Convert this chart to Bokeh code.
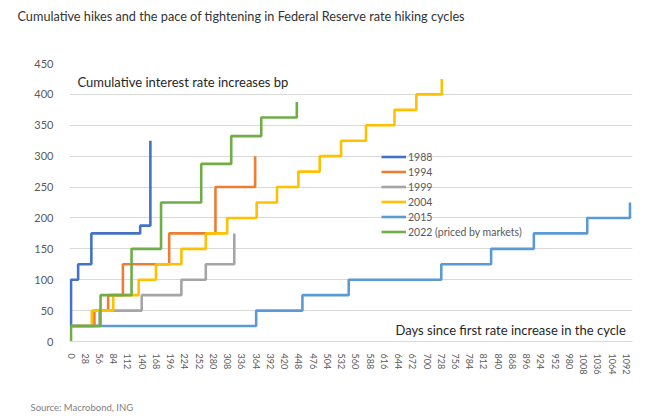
from bokeh.plotting import figure
from bokeh.layouts import column
from bokeh.models import Range1d, FixedTicker, Label, Legend, LegendItem, Title
from bokeh.embed import file_html
from bokeh.resources import INLINE

# ---- data (days since first hike, cumulative bp) ----
days_1988 = [0, 0, 14, 40, 136, 156]
bp_1988 = [25, 100, 125, 175, 187.5, 325]

days_1994 = [0, 46, 73, 102, 193, 284, 362]
bp_1994 = [25, 50, 75, 125, 175, 250, 300]

days_1999 = [0, 56, 139, 217, 265, 321]
bp_1999 = [25, 50, 75, 100, 125, 175]

days_2004 = [0, 41, 83, 133, 167, 217, 265, 307, 365, 405, 447, 489, 531, 580, 636, 679, 729]
bp_2004 = [25, 50, 75, 100, 125, 150, 175, 200, 225, 250, 275, 300, 325, 350, 375, 400, 425]

days_2015 = [0, 364, 455, 546, 728, 826, 910, 1015, 1099]
bp_2015 = [25, 50, 75, 100, 125, 150, 175, 200, 225]

days_2022 = [0, 0, 58, 119, 177, 256, 315, 374, 444]
bp_2022 = [0, 25, 75, 150, 225, 287.5, 332.5, 362.5, 387.5]

series_names = ["1988", "1994", "1999", "2004", "2015", "2022 (priced by markets)"]
series_colors = ["#4472C4", "#ED7D31", "#A5A5A5", "#FFC000", "#5B9BD5", "#70AD47"]
series_days = [days_1988, days_1994, days_1999, days_2004, days_2015, days_2022]
series_bp = [bp_1988, bp_1994, bp_1999, bp_2004, bp_2015, bp_2022]

x_ticks = list(range(0, 1093, 28))
y_ticks = [0, 50, 100, 150, 200, 250, 300, 350, 400, 450]

title_text = "Cumulative hikes and the pace of tightening in Federal Reserve rate hiking cycles"
y_note = "Cumulative interest rate increases bp"
x_note = "Days since first rate increase in the cycle"
source_text = "Source: Macrobond, ING"

FONT = "Lato"
W = 656
H_TOP = 30
H_BOTTOM = 24
H_MAIN = 419 - H_TOP - H_BOTTOM


def text_strip(height, title):
    f = figure(width=W, height=height, output_backend="svg", toolbar_location=None,
               x_range=Range1d(0, 1), y_range=Range1d(0, 1),
               x_axis_type=None, y_axis_type=None,
               min_border_left=0, min_border_right=0, min_border_top=0, min_border_bottom=0)
    f.title = title
    f.outline_line_color = None
    f.xgrid.visible = False
    f.ygrid.visible = False
    return f


top = text_strip(H_TOP, Title(text=title_text, align="left", offset=-52, standoff=14,
                              text_font=FONT, text_font_size="12.7px",
                              text_color="#333333", text_font_style="normal"))
bottom = text_strip(H_BOTTOM, Title(text=source_text, align="left", offset=-39, standoff=13,
                                    text_font=FONT, text_font_size="9.5px",
                                    text_color="#7f7f7f", text_font_style="normal"))

p = figure(width=W, height=H_MAIN, output_backend="svg", toolbar_location=None,
           x_range=Range1d(-3, 1104), y_range=Range1d(0, 450),
           min_border_left=69, min_border_right=24, min_border_top=63 - H_TOP,
           min_border_bottom=int(round(419 - H_BOTTOM - 340.5)))
p.title = None
p.outline_line_color = None
p.background_fill_color = "white"
p.border_fill_color = "white"

p.xgrid.grid_line_color = None
p.ygrid.grid_line_color = "#d9d9d9"
p.ygrid.grid_line_width = 1
p.ygrid.ticker = FixedTicker(ticks=y_ticks)

p.yaxis.ticker = FixedTicker(ticks=y_ticks)
p.yaxis.axis_line_color = None
p.yaxis.major_tick_line_color = None
p.yaxis.minor_tick_line_color = None
p.yaxis.major_label_standoff = 10
p.yaxis.major_label_text_font = FONT
p.yaxis.major_label_text_font_size = "11px"
p.yaxis.major_label_text_color = "#595959"

p.xaxis.ticker = FixedTicker(ticks=x_ticks)
p.xaxis.axis_line_color = "#d9d9d9"
p.xaxis.major_tick_line_color = None
p.xaxis.minor_tick_line_color = None
p.xaxis.major_label_orientation = "vertical"
p.xaxis.major_label_standoff = 6
p.xaxis.major_label_text_font = FONT
p.xaxis.major_label_text_font_size = "9px"
p.xaxis.major_label_text_color = "#595959"

items = []
for name, color, d, v in zip(series_names, series_colors, series_days, series_bp):
    r = p.step(d, v, mode="after", line_color=color, line_width=2.6)
    items.append(LegendItem(label=name, renderers=[r]))

legend = Legend(items=items, location=(312, 102), padding=0, margin=0, spacing=0,
                glyph_width=25, glyph_height=15, label_height=15, label_standoff=2,
                label_text_font=FONT, label_text_font_size="10.5px",
                label_text_color="#595959", background_fill_alpha=0,
                border_line_color=None)
p.add_layout(legend)

p.add_layout(Label(x=8, y=260, x_units="screen", y_units="screen", text=y_note,
                   text_font=FONT, text_font_size="13px", text_color="#262626",
                   text_baseline="middle"))
p.add_layout(Label(x=326, y=12, x_units="screen", y_units="screen", text=x_note,
                   text_font=FONT, text_font_size="13px", text_color="#262626",
                   text_baseline="middle"))

layout = column(top, p, bottom, spacing=0)
open("out.html", "w").write(file_html(layout, INLINE))
